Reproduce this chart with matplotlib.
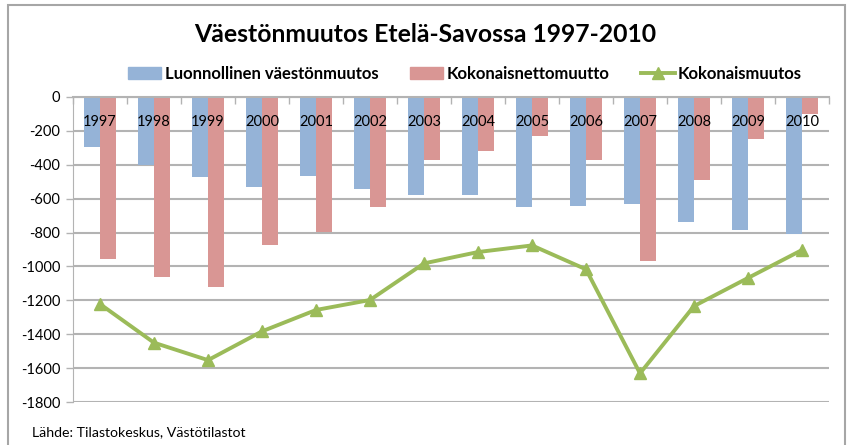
import numpy as np
import matplotlib.pyplot as plt
from matplotlib.patches import Rectangle
from matplotlib.lines import Line2D

# === DATA ===
vuodet = [1997, 1998, 1999, 2000, 2001, 2002, 2003, 2004, 2005, 2006, 2007, 2008, 2009, 2010]
luonnollinen = [-297, -400, -470, -529, -464, -543, -578, -578, -651, -643, -631, -740, -785, -807]
nettomuutto = [-958, -1061, -1120, -872, -799, -651, -370, -317, -228, -370, -966, -488, -250, -100]
kokonais = [-1222, -1450, -1553, -1383, -1257, -1198, -982, -915, -876, -1017, -1631, -1234, -1068, -903]
y_ticks = list(range(0, -2000, -200))

SININEN = '#95B3D7'
PUNAINEN = '#D99694'
VIHREA = '#9BBB59'
HARMAA = '#B3B3B3'

plt.rcParams['font.family'] = ['Lato', 'DejaVu Sans']

W, H = 851, 445
fig = plt.figure(figsize=(W / 100, H / 100), dpi=100)

# kaavion kehys
fig.patches.append(Rectangle((8 / W, -0.05), (845 - 8) / W, (H - 5) / H + 0.05,
                             transform=fig.transFigure, fill=False,
                             edgecolor='#A6A6A6', linewidth=1.5))

# piirtoalue pikseleinä
x0, x1, ytop, ybot = 73, 829, 97, 402
ax = fig.add_axes([x0 / W, (H - ybot) / H, (x1 - x0) / W, (ybot - ytop) / H])

x = np.arange(len(vuodet))
bw = 0.29
ax.bar(x - bw / 2, luonnollinen, bw, color=SININEN, zorder=2)
ax.bar(x + bw / 2, nettomuutto, bw, color=PUNAINEN, zorder=2)
ax.plot(x, kokonais, color=VIHREA, linewidth=2.8, marker='^', markersize=9,
        zorder=3)

ax.set_xlim(-0.5, len(vuodet) - 0.5)
ax.set_ylim(-1800, 0)
ax.set_yticks(y_ticks)
ax.set_yticklabels([str(v) for v in y_ticks])
ax.yaxis.grid(True, color=HARMAA, linewidth=1.5, zorder=0)
ax.set_axisbelow(True)

# luokkien rajat tikkeinä nollaviivalla
ax.xaxis.tick_top()
ax.set_xticks(np.arange(len(vuodet) + 1) - 0.5)
ax.set_xticklabels([])
ax.tick_params(axis='x', direction='in', length=5, color=HARMAA, width=1)
ax.tick_params(axis='y', direction='out', length=5, color=HARMAA, width=1,
               labelsize=10.5, pad=4)

for s in ['right', 'bottom']:
    ax.spines[s].set_visible(False)
ax.spines['left'].set_color(HARMAA)
ax.spines['top'].set_color(HARMAA)
ax.spines['top'].set_linewidth(1.5)

for xi, v in zip(x, vuodet):
    ax.text(xi, -148, str(v), ha='center', va='center', fontsize=10.5, zorder=4)

fig.text(425 / W, 1 - 35 / H, 'Väestönmuutos Etelä-Savossa 1997-2010',
         ha='center', va='center', fontsize=17.8, fontweight='bold')

kahvat = [Rectangle((0, 0), 1, 1, color=SININEN),
          Rectangle((0, 0), 1, 1, color=PUNAINEN),
          Line2D([], [], color=VIHREA, linewidth=2.8, marker='^', markersize=9)]
nimet = ['Luonnollinen väestönmuutos', 'Kokonaisnettomuutto', 'Kokonaismuutos']
fig.legend(kahvat, nimet, loc='center', bbox_to_anchor=(465 / W, 1 - 74 / H),
           ncol=3, frameon=False, prop={'size': 12, 'weight': 'bold'},
           handlelength=2.0, handleheight=0.7, handletextpad=0.2,
           columnspacing=1.9)

fig.text(32 / W, 1 - 432 / H, 'Lähde: Tilastokeskus, Västötilastot',
         ha='left', va='center', fontsize=10.2)

fig.savefig('out.png', dpi=100)
